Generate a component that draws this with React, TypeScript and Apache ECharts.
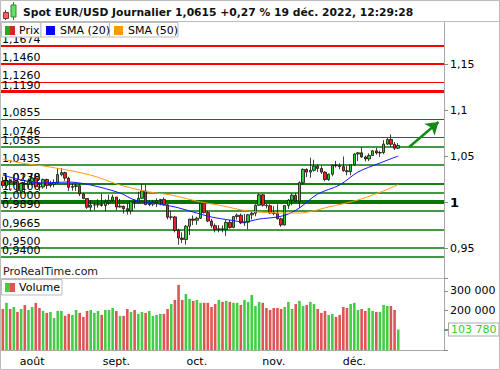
import React, { useEffect, useRef } from 'react';
import * as echarts from 'echarts';

const FONT = 'DejaVu Sans';

// ---- calendar (weekdays) ----
const julDays = [20, 21, 22, 25, 26, 27, 28, 29];
const augDays = [1, 2, 3, 4, 5, 8, 9, 10, 11, 12, 15, 16, 17, 18, 19, 22, 23, 24, 25, 26, 29, 30, 31];
const sepDays = [1, 2, 5, 6, 7, 8, 9, 12, 13, 14, 15, 16, 19, 20, 21, 22, 23, 26, 27, 28, 29, 30];
const octDays = [3, 4, 5, 6, 7, 10, 11, 12, 13, 14, 17, 18, 19, 20, 21, 24, 25, 26, 27, 28, 31];
const novDays = [1, 2, 3, 4, 7, 8, 9, 10, 11, 14, 15, 16, 17, 18, 21, 22, 23, 24, 25, 28, 29, 30];
const decDays = [1, 2, 5, 6, 7, 8, 9, 12, 13, 14, 15, 16, 19, 20, 21, 22, 23, 26, 27, 28, 29, 30];
const janDays = [2, 3, 4];
const monthKeys = ['2022-07', '2022-08', '2022-09', '2022-10', '2022-11', '2022-12', '2023-01'];
const monthDays = [julDays, augDays, sepDays, octDays, novDays, decDays, janDays];
const monthLabels = ['', 'août', 'sept.', 'oct.', 'nov.', 'déc.', ''];

// ---- price (open, close, low, high) ----
const opens = [
  1.0225, 1.0180, 1.0228, 1.0212, 1.0223, 1.0122, 1.0200, 1.0195,
  1.0223, 1.0260, 1.0166, 1.0163, 1.0245, 1.0180, 1.0195, 1.0212, 1.0298, 1.0320, 1.0260, 1.0160, 1.0170, 1.0178, 1.0088, 1.0038, 0.9943, 0.9967, 0.9970, 0.9972, 0.9963, 1.0000, 1.0018,
  1.0054, 0.9945, 0.9955, 0.9928, 0.9903, 1.0003, 1.0000, 1.0040, 1.0121, 0.9972, 0.9977, 0.9997, 1.0015, 1.0028, 0.9970, 0.9835, 0.9838, 0.9690, 0.9608, 0.9593, 0.9737, 0.9815,
  0.9802, 0.9824, 0.9986, 0.9885, 0.9793, 0.9743, 0.9700, 0.9709, 0.9702, 0.9779, 0.9724, 0.9842, 0.9857, 0.9773, 0.9781, 0.9861, 0.9878, 0.9965, 1.0078, 0.9965, 0.9960,
  0.9881, 0.9875, 0.9818, 0.9750, 0.9961, 1.0020, 1.0074, 1.0010, 1.0210, 1.0355, 1.0325, 1.0345, 1.0390, 1.0365, 1.0325, 1.0245, 1.0303, 1.0400, 1.0395, 1.0385, 1.0340, 1.0330,
  1.0405, 1.0522, 1.0535, 1.0490, 1.0468, 1.0505, 1.0556, 1.0533, 1.0538, 1.0630, 1.0680, 1.0628, 1.0585,
];
const closes = [
  1.0180, 1.0228, 1.0212, 1.0223, 1.0122, 1.0200, 1.0195, 1.0223,
  1.0260, 1.0166, 1.0163, 1.0245, 1.0180, 1.0195, 1.0212, 1.0298, 1.0320, 1.0260, 1.0160, 1.0170, 1.0178, 1.0088, 1.0038, 0.9943, 0.9967, 0.9970, 0.9972, 0.9963, 1.0000, 1.0018, 1.0054,
  0.9945, 0.9955, 0.9928, 0.9903, 1.0003, 1.0000, 1.0040, 1.0121, 0.9972, 0.9977, 0.9997, 1.0015, 1.0028, 0.9970, 0.9835, 0.9838, 0.9690, 0.9608, 0.9593, 0.9737, 0.9815, 0.9802,
  0.9824, 0.9986, 0.9885, 0.9793, 0.9743, 0.9700, 0.9709, 0.9702, 0.9779, 0.9724, 0.9842, 0.9857, 0.9773, 0.9781, 0.9861, 0.9878, 0.9965, 1.0078, 0.9965, 0.9960, 0.9881,
  0.9875, 0.9818, 0.9750, 0.9961, 1.0020, 1.0074, 1.0010, 1.0210, 1.0355, 1.0325, 1.0345, 1.0390, 1.0365, 1.0325, 1.0245, 1.0303, 1.0400, 1.0395, 1.0385, 1.0340, 1.0330, 1.0405,
  1.0522, 1.0535, 1.0490, 1.0468, 1.0505, 1.0556, 1.0533, 1.0538, 1.0630, 1.0680, 1.0628, 1.0585, 1.0615,
];
const lows = [
  1.0155, 1.0153, 1.0130, 1.0178, 1.0100, 1.0095, 1.0097, 1.0145,
  1.0180, 1.0160, 1.0123, 1.0145, 1.0142, 1.0160, 1.0160, 1.0200, 1.0280, 1.0230, 1.0120, 1.0123, 1.0120, 1.0065, 1.0030, 0.9925, 0.9900, 0.9910, 0.9940, 0.9950, 0.9900, 0.9970, 1.0000,
  0.9910, 0.9940, 0.9875, 0.9863, 0.9865, 0.9930, 0.9995, 1.0035, 0.9965, 0.9955, 0.9955, 0.9945, 0.9965, 0.9960, 0.9810, 0.9807, 0.9670, 0.9536, 0.9555, 0.9536, 0.9640, 0.9750,
  0.9752, 0.9815, 0.9875, 0.9780, 0.9720, 0.9670, 0.9670, 0.9670, 0.9632, 0.9710, 0.9715, 0.9810, 0.9760, 0.9740, 0.9705, 0.9810, 0.9845, 0.9960, 0.9950, 0.9930, 0.9870,
  0.9855, 0.9810, 0.9730, 0.9745, 0.9925, 0.9965, 1.0000, 0.9935, 1.0187, 1.0270, 1.0265, 1.0330, 1.0325, 1.0305, 1.0225, 1.0230, 1.0280, 1.0375, 1.0355, 1.0330, 1.0290, 1.0290,
  1.0395, 1.0445, 1.0480, 1.0440, 1.0445, 1.0500, 1.0515, 1.0490, 1.0520, 1.0620, 1.0600, 1.0565, 1.0575,
];
const highs = [
  1.0273, 1.0278, 1.0255, 1.0258, 1.0250, 1.0210, 1.0235, 1.0255,
  1.0294, 1.0294, 1.0215, 1.0255, 1.0253, 1.0230, 1.0248, 1.0368, 1.0368, 1.0330, 1.0275, 1.0200, 1.0200, 1.0200, 1.0095, 1.0040, 1.0020, 0.9995, 1.0030, 1.0090, 1.0030, 1.0080, 1.0080,
  1.0055, 1.0034, 0.9960, 0.9987, 1.0010, 1.0030, 1.0112, 1.0198, 1.0187, 1.0020, 1.0020, 1.0040, 1.0035, 1.0050, 0.9975, 0.9905, 0.9850, 0.9710, 0.9670, 0.9750, 0.9817, 0.9853,
  0.9840, 0.9999, 0.9990, 0.9902, 0.9815, 0.9765, 0.9750, 0.9745, 0.9808, 0.9805, 0.9850, 0.9875, 0.9875, 0.9870, 0.9870, 0.9900, 0.9975, 1.0093, 1.0088, 0.9980, 0.9975,
  0.9955, 0.9975, 0.9830, 0.9965, 1.0033, 1.0095, 1.0095, 1.0225, 1.0365, 1.0365, 1.0481, 1.0460, 1.0410, 1.0395, 1.0335, 1.0310, 1.0407, 1.0448, 1.0420, 1.0495, 1.0395, 1.0410,
  1.0530, 1.0545, 1.0595, 1.0505, 1.0530, 1.0565, 1.0590, 1.0558, 1.0673, 1.0695, 1.0736, 1.0652, 1.0640,
];

// moving averages: [day index, value]
const sma20 = [
  [0, 1.0293], [5, 1.0239], [10, 1.0207], [18, 1.0217], [24, 1.0185], [32, 1.0098], [36, 1.0022],
  [41, 0.9989], [47, 0.9946], [52, 0.9891], [57, 0.9837], [62, 0.9804], [66, 0.9783], [70, 0.9815],
  [75, 0.9837], [78, 0.9870], [81, 0.9935], [86, 1.0087], [92, 1.0185], [97, 1.0326], [103, 1.0424], [108, 1.0500],
];
const sma50 = [
  [0, 1.0467], [5, 1.0424], [13, 1.0380], [24, 1.0293], [32, 1.0185], [40, 1.0109], [46, 1.0076],
  [54, 1.0000], [59, 0.9967], [67, 0.9902], [77, 0.9880], [81, 0.9880], [89, 0.9946], [97, 1.0022],
  [103, 1.0105], [108, 1.0190],
];

// volume
const volumes = [
  208000, 239000, 208000, 218000, 193000, 208000, 228000, 203000,
  218000, 239000, 213000, 198000, 188000, 193000, 162000, 198000, 198000, 173000, 183000, 178000, 203000, 188000, 168000, 198000, 203000, 188000, 198000, 178000, 203000, 203000, 213000,
  198000, 173000, 173000, 208000, 193000, 203000, 183000, 193000, 188000, 198000, 173000, 178000, 183000, 183000, 208000, 233000, 254000, 330000, 254000, 284000, 259000, 249000,
  254000, 239000, 239000, 239000, 218000, 233000, 254000, 244000, 249000, 244000, 239000, 239000, 228000, 254000, 244000, 279000, 223000, 244000, 239000, 213000, 203000,
  213000, 213000, 208000, 218000, 244000, 208000, 233000, 249000, 223000, 228000, 244000, 233000, 208000, 188000, 198000, 178000, 183000, 168000, 178000, 218000, 213000, 233000,
  239000, 203000, 208000, 198000, 213000, 198000, 193000, 193000, 228000, 223000, 223000, 203000, 103780,
];
const volumeTicks = [200000, 300000];

// support / resistance levels
const levelValues = [1.1674, 1.1460, 1.1260, 1.1190, 1.0855, 1.0746, 1.0585, 1.0435, 1.0238, 1.0170, 1.0100, 1.0000, 0.9890, 0.9665, 0.9500, 0.9400];
const levelLabels = ['1,1674', '1,1460', '1,1260', '1,1190', '1,0855', '1,0746', '1,0585', '1,0435', '1,0238', '1,0170', '1,0100', '1,0000', '0,9890', '0,9665', '0,9500', '0,9400'];
const levelWidths = [2, 2, 1, 3, 1, 1, 1.5, 1.5, 1.5, 1.5, 1.5, 4, 1.5, 1.5, 1.5, 1.5];

// trend arrow: [day index, value]
const arrowFrom = [111, 1.0598];
const arrowTo = [119, 1.0870];

const titleText = 'Spot EUR/USD Journalier 1,0615 +0,27 % 19 déc. 2022, 12:29:28';

// ---- derived ----
const categories: string[] = [];
const tickIdx = new Set<number>();
const labelAt: Record<number, string> = {};
monthDays.forEach((days, m) => {
  days.forEach((d, k) => {
    if (k === 0 && m > 0) {
      tickIdx.add(categories.length);
      if (monthLabels[m]) labelAt[categories.length] = monthLabels[m];
    }
    categories.push(monthKeys[m] + '-' + String(d).padStart(2, '0'));
  });
});

const GREEN = '#2fcc2f';
const RED = '#ee2020';
const VGREEN = '#44cc44';
const VRED = '#dd5555';
const LGREEN = '#087508';
const LRED = '#ff0000';

const candleData = opens.map((o, i) => [o, closes[i], lows[i], highs[i]]);
const volumeData = volumes.map((v, i) => ({
  value: v,
  itemStyle: { color: closes[i] >= opens[i] ? VGREEN : VRED },
}));
const lastVolume = volumes[volumes.length - 1];
const fmtThousands = (v: number) => String(Math.round(v)).replace(/\B(?=(\d{3})+(?!\d))/g, ' ');

const levelLines = levelValues.map((v, i) => ({
  yAxis: v,
  lineStyle: { color: v > closes[closes.length - 1] ? LRED : LGREEN, width: levelWidths[i], type: 'solid' },
  label: { formatter: levelLabels[i] },
}));

const option: any = {
  animation: false,
  backgroundColor: '#ffffff',
  textStyle: { fontFamily: FONT },
  grid: [
    { left: 1, right: 56, top: 22, height: 256 },
    { left: 1, right: 56, top: 278, height: 72 },
  ],
  xAxis: [
    { type: 'category', gridIndex: 0, data: categories, boundaryGap: true, show: false },
    {
      type: 'category', gridIndex: 1, data: categories, boundaryGap: true,
      axisLine: { lineStyle: { color: '#aaaaaa' } },
      axisTick: { interval: (i: number) => tickIdx.has(i), alignWithLabel: true, length: 4, lineStyle: { color: '#888888' } },
      axisLabel: {
        interval: (i: number) => tickIdx.has(i),
        formatter: (_v: string, i: number) => labelAt[i] || '',
        color: '#000', fontSize: 11, margin: 6, fontFamily: FONT,
      },
      splitLine: { show: false },
    },
  ],
  yAxis: [
    {
      type: 'value', gridIndex: 0, position: 'right', min: 0.9174, max: 1.1957, splitNumber: 5,
      axisLine: { show: true, lineStyle: { color: '#aaaaaa' } },
      axisTick: { show: true, length: 4, lineStyle: { color: '#888888' } },
      splitLine: { show: false },
      axisLabel: {
        showMinLabel: false, showMaxLabel: false, color: '#000', fontSize: 11, margin: 6, fontFamily: FONT,
        formatter: (v: number) => (Math.abs(v - 1) < 1e-9 ? '{b|1}' : String(+v.toFixed(2)).replace('.', ',')),
        rich: { b: { fontWeight: 'bold', fontSize: 13, fontFamily: FONT, color: '#000' } },
      },
    },
    {
      type: 'value', gridIndex: 1, position: 'right', min: 0, max: 365000, interval: 100000,
      axisLine: { show: true, lineStyle: { color: '#aaaaaa' } },
      axisTick: { show: true, length: 4, lineStyle: { color: '#888888' } },
      splitLine: { show: false },
      axisLabel: {
        color: '#000', fontSize: 11, margin: 6, fontFamily: FONT,
        formatter: (v: number) => (volumeTicks.includes(v) ? fmtThousands(v) : ''),
      },
    },
  ],
  series: [
    {
      name: 'levels', type: 'line', xAxisIndex: 0, yAxisIndex: 0, data: [], z: 1,
      markLine: {
        silent: true, z: 1, symbol: ['none', 'none'], animation: false,
        label: { show: true, position: 'insideStartTop', distance: 1, color: '#000', fontSize: 11, fontFamily: FONT },
        data: levelLines,
      },
    },
    {
      name: 'Prix', type: 'candlestick', xAxisIndex: 0, yAxisIndex: 0, data: candleData, z: 3,
      barWidth: 3,
      itemStyle: { color: GREEN, color0: RED, borderColor: '#111', borderColor0: '#111', borderWidth: 0.8 },
    },
    {
      name: 'SMA (20)', type: 'line', xAxisIndex: 0, yAxisIndex: 0, data: sma20, z: 4,
      symbol: 'none', smooth: 0.3, connectNulls: true, lineStyle: { color: '#1515ff', width: 1 },
    },
    {
      name: 'SMA (50)', type: 'line', xAxisIndex: 0, yAxisIndex: 0, data: sma50, z: 4,
      symbol: 'none', smooth: 0.3, connectNulls: true, lineStyle: { color: '#ff9a10', width: 1 },
    },
    {
      name: 'arrow', type: 'line', xAxisIndex: 0, yAxisIndex: 0, data: [], z: 6,
      markLine: {
        silent: true, symbol: ['none', 'arrow'], symbolSize: 12, animation: false,
        label: { show: false },
        lineStyle: { color: '#138a13', width: 2.5, type: 'solid' },
        data: [[{ coord: arrowFrom }, { coord: arrowTo }]],
      },
    },
    {
      name: 'Volume', type: 'bar', xAxisIndex: 1, yAxisIndex: 1, data: volumeData, barWidth: 2.6, z: 3,
      markLine: {
        silent: true, symbol: ['none', 'none'], animation: false,
        lineStyle: { color: 'rgba(0,0,0,0)', width: 1, type: 'solid' },
        label: {
          show: true, position: 'end', distance: 5, formatter: fmtThousands(lastVolume),
          color: '#33cc33', fontSize: 11, fontFamily: FONT, backgroundColor: '#fff',
          borderColor: '#aaaaaa', borderWidth: 1, padding: [1, 2, 0, 2],
        },
        data: [{ yAxis: lastVolume }],
      },
    },
  ],
  graphic: [
    { type: 'rect', silent: true, z: 100, shape: { x: 0.5, y: 0.5, width: 499, height: 369 }, style: { fill: 'none', stroke: '#bbbbbb', lineWidth: 1 } },
    { type: 'line', silent: true, z: 100, shape: { x1: 0, y1: 21.5, x2: 500, y2: 21.5 }, style: { stroke: '#bbbbbb', lineWidth: 1 } },
    { type: 'line', silent: true, z: 100, shape: { x1: 0, y1: 278.5, x2: 444, y2: 278.5 }, style: { stroke: '#bbbbbb', lineWidth: 1 } },
    // title icon
    { type: 'line', silent: true, z: 100, shape: { x1: 5.5, y1: 10, x2: 5.5, y2: 20 }, style: { stroke: '#773333', lineWidth: 1 } },
    { type: 'rect', silent: true, z: 101, shape: { x: 3.5, y: 12.5, width: 5, height: 6 }, style: { fill: '#ee6666', stroke: '#883333', lineWidth: 1 } },
    { type: 'line', silent: true, z: 100, shape: { x1: 13.5, y1: 2, x2: 13.5, y2: 20 }, style: { stroke: '#337733', lineWidth: 1 } },
    { type: 'rect', silent: true, z: 101, shape: { x: 11, y: 5, width: 5, height: 12 }, style: { fill: '#66dd66', stroke: '#338833', lineWidth: 1 } },
    { type: 'text', silent: true, z: 100, x: 23, y: 12, style: { text: titleText, font: 'bold 10.75px "DejaVu Sans"', fill: '#111', verticalAlign: 'middle' } },
    // price legend
    { type: 'rect', silent: true, z: 100, shape: { x: 1.5, y: 22.5, width: 39.5, height: 14.5 }, style: { fill: '#fff', stroke: '#bbbbbb', lineWidth: 1 } },
    { type: 'rect', silent: true, z: 101, shape: { x: 5, y: 26, width: 5, height: 9 }, style: { fill: '#22aa22' } },
    { type: 'rect', silent: true, z: 101, shape: { x: 10, y: 26, width: 5, height: 9 }, style: { fill: '#dd2222' } },
    { type: 'text', silent: true, z: 101, x: 19, y: 30, style: { text: 'Prix', font: '11px "DejaVu Sans"', fill: '#000', verticalAlign: 'middle' } },
    { type: 'rect', silent: true, z: 100, shape: { x: 41, y: 22.5, width: 68.5, height: 14.5 }, style: { fill: '#fff', stroke: '#bbbbbb', lineWidth: 1 } },
    { type: 'rect', silent: true, z: 101, shape: { x: 46, y: 26, width: 9, height: 9 }, style: { fill: '#0000ff' } },
    { type: 'text', silent: true, z: 101, x: 60, y: 30, style: { text: 'SMA (20)', font: '11px "DejaVu Sans"', fill: '#000', verticalAlign: 'middle' } },
    { type: 'rect', silent: true, z: 100, shape: { x: 109.5, y: 22.5, width: 68.5, height: 14.5 }, style: { fill: '#fff', stroke: '#bbbbbb', lineWidth: 1 } },
    { type: 'rect', silent: true, z: 101, shape: { x: 114, y: 26, width: 9, height: 9 }, style: { fill: '#ff9900' } },
    { type: 'text', silent: true, z: 101, x: 128, y: 30, style: { text: 'SMA (50)', font: '11px "DejaVu Sans"', fill: '#000', verticalAlign: 'middle' } },
    // watermark
    { type: 'text', silent: true, z: 100, x: 3, y: 271, style: { text: 'ProRealTime.com', font: '11px "DejaVu Sans"', fill: '#222', verticalAlign: 'middle' } },
    // volume legend
    { type: 'rect', silent: true, z: 100, shape: { x: 1.5, y: 279.5, width: 60.5, height: 15.5 }, style: { fill: '#fff', stroke: '#bbbbbb', lineWidth: 1 } },
    { type: 'rect', silent: true, z: 101, shape: { x: 5, y: 283, width: 5, height: 9 }, style: { fill: '#44cc44' } },
    { type: 'rect', silent: true, z: 101, shape: { x: 10, y: 283, width: 5, height: 9 }, style: { fill: '#dd5555' } },
    { type: 'text', silent: true, z: 101, x: 19, y: 287.5, style: { text: 'Volume', font: '11px "DejaVu Sans"', fill: '#000', verticalAlign: 'middle' } },
    // current volume marker tick
    { type: 'line', silent: true, z: 100, shape: { x1: 444, y1: 329.5, x2: 449, y2: 329.5 }, style: { stroke: '#33cc33', lineWidth: 1 } },
  ],
};

export default function App() {
  const ref = useRef<HTMLDivElement>(null);
  useEffect(() => {
    const chart = echarts.init(ref.current!, null, { renderer: 'svg' });
    chart.setOption(option);
    return () => chart.dispose();
  }, []);
  return <div ref={ref} style={{ position: 'fixed', left: 0, top: 0, width: 500, height: 370 }} />;
}
